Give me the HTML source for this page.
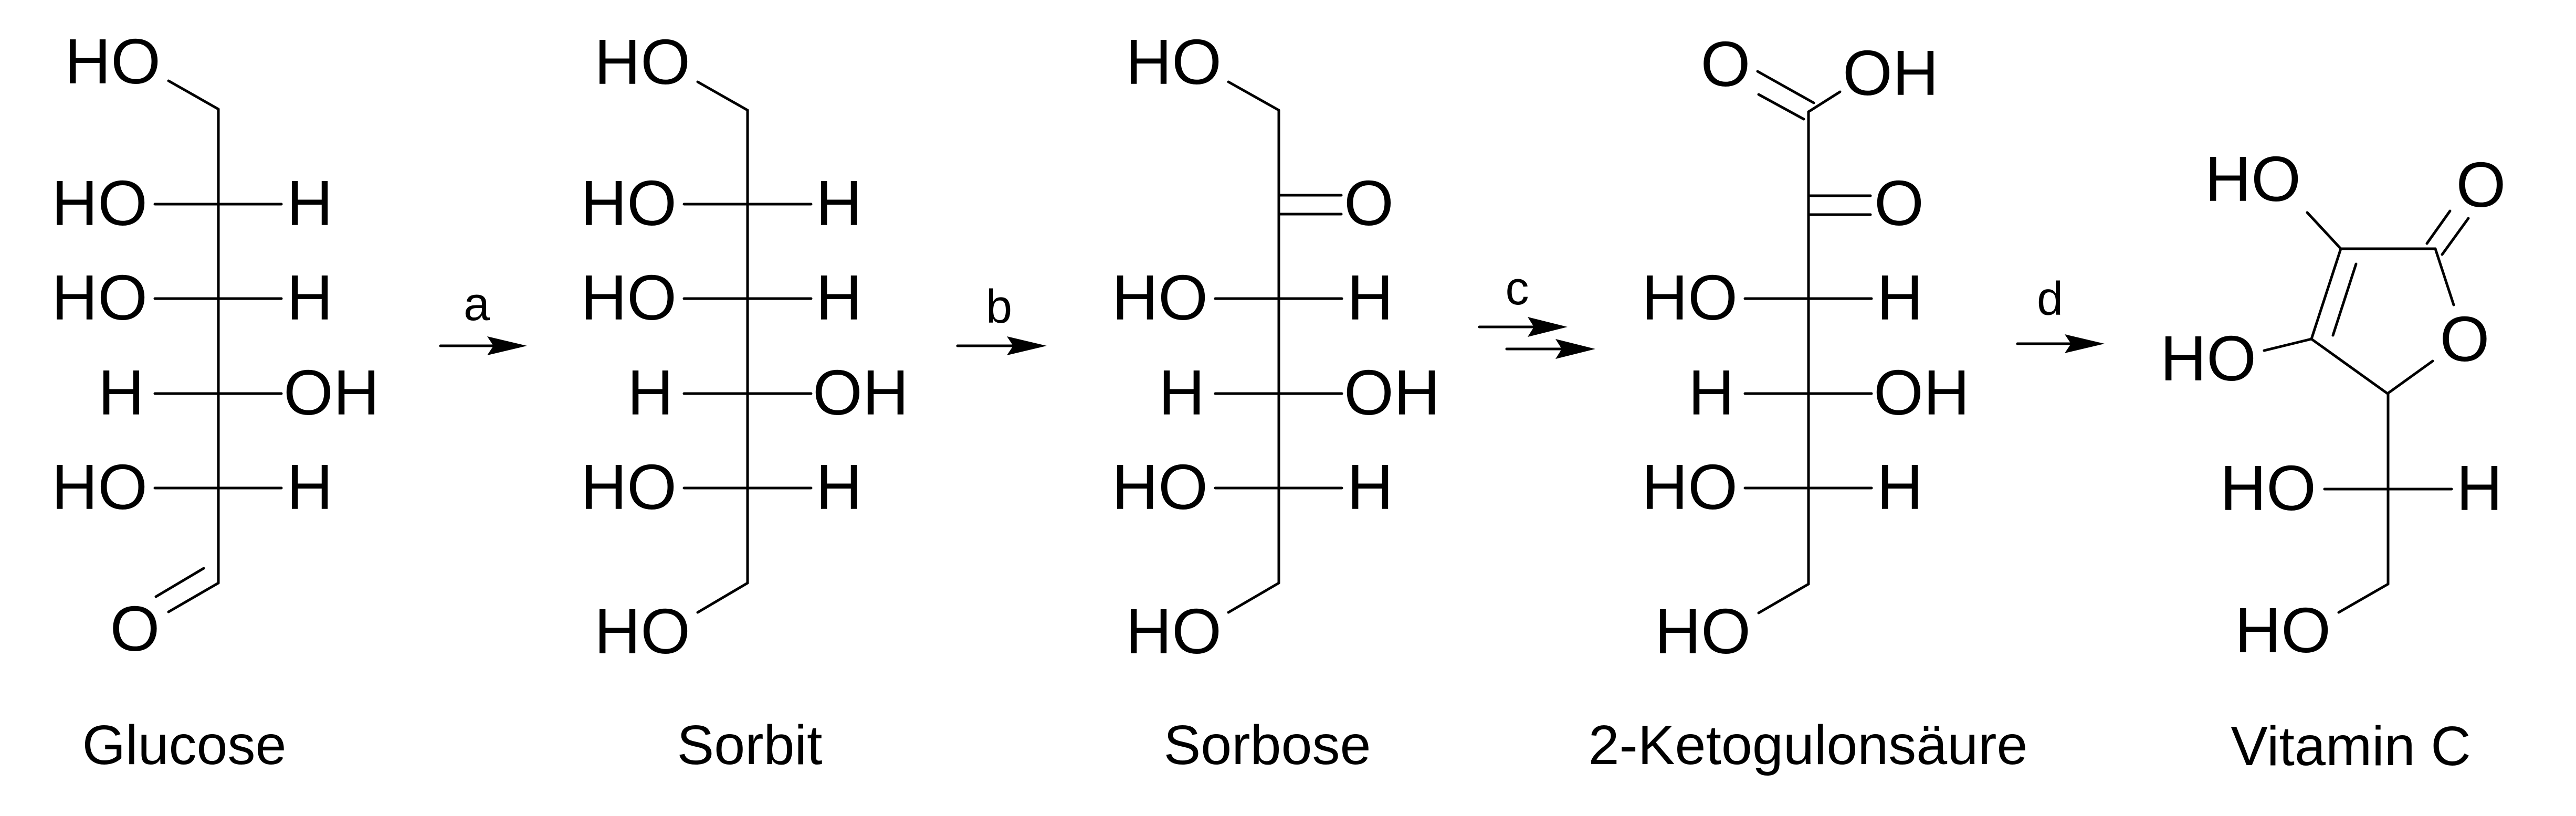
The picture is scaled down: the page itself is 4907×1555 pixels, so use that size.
<!DOCTYPE html>
<html><head><meta charset="utf-8"><style>
html,body{margin:0;padding:0;background:#fff;}
svg{display:block;}
text{font-family:"Liberation Sans",Arial,sans-serif;fill:#000;}
.a{font-size:122px;}
.l{font-size:106px;}
.r{font-size:90px;}
</style></head><body>
<svg width="4907" height="1555" viewBox="0 0 4907 1555" xmlns="http://www.w3.org/2000/svg">
<g stroke="#000" stroke-width="5" stroke-linecap="round" fill="none">
<!-- Glucose -->
<line x1="416" y1="208" x2="416" y2="1111"/>
<polyline points="321,154 416,208"/>
<line x1="295" y1="389" x2="536" y2="389"/>
<line x1="295" y1="569" x2="536" y2="569"/>
<line x1="295" y1="750" x2="536" y2="750"/>
<line x1="295" y1="930" x2="536" y2="930"/>
<line x1="297" y1="1137" x2="388" y2="1083"/>
<line x1="321" y1="1166" x2="416" y2="1111"/>
<!-- Sorbit -->
<line x1="1424" y1="210" x2="1424" y2="1111"/>
<line x1="1329" y1="156" x2="1424" y2="210"/>
<line x1="1329" y1="1167" x2="1424" y2="1111"/>
<line x1="1303" y1="389" x2="1545" y2="389"/>
<line x1="1303" y1="569" x2="1545" y2="569"/>
<line x1="1303" y1="750" x2="1545" y2="750"/>
<line x1="1303" y1="930" x2="1545" y2="930"/>
<!-- Sorbose -->
<line x1="2436" y1="210" x2="2436" y2="1111"/>
<line x1="2340" y1="156" x2="2436" y2="210"/>
<line x1="2340" y1="1167" x2="2436" y2="1111"/>
<line x1="2436" y1="372" x2="2555" y2="372"/>
<line x1="2436" y1="408" x2="2555" y2="408"/>
<line x1="2315" y1="569" x2="2556" y2="569"/>
<line x1="2315" y1="750" x2="2556" y2="750"/>
<line x1="2315" y1="930" x2="2556" y2="930"/>
<!-- Keto -->
<line x1="3445" y1="213" x2="3445" y2="1113"/>
<line x1="3348" y1="136" x2="3455" y2="196"/>
<line x1="3350" y1="180" x2="3436" y2="227"/>
<line x1="3445" y1="213" x2="3505" y2="175"/>
<line x1="3445" y1="373" x2="3563" y2="373"/>
<line x1="3445" y1="409" x2="3563" y2="409"/>
<line x1="3324" y1="569" x2="3565" y2="569"/>
<line x1="3324" y1="750" x2="3565" y2="750"/>
<line x1="3324" y1="930" x2="3565" y2="930"/>
<line x1="3350" y1="1168" x2="3445" y2="1113"/>
<!-- Vitamin C -->
<line x1="4395" y1="405" x2="4459" y2="474"/>
<line x1="4459" y1="474" x2="4639" y2="474"/>
<line x1="4639" y1="474" x2="4674" y2="581"/>
<line x1="4634" y1="688" x2="4548" y2="750"/>
<line x1="4548" y1="750" x2="4403" y2="646"/>
<line x1="4403" y1="646" x2="4459" y2="474"/>
<line x1="4444" y1="639" x2="4488" y2="503"/>
<line x1="4623" y1="464" x2="4667" y2="402"/>
<line x1="4652" y1="485" x2="4702" y2="416"/>
<line x1="4313" y1="668" x2="4403" y2="646"/>
<line x1="4549" y1="750" x2="4549" y2="1113"/>
<line x1="4428" y1="932" x2="4670" y2="932"/>
<line x1="4455" y1="1167" x2="4549" y2="1113"/>
<!-- arrows lines -->
<line x1="839" y1="659" x2="950" y2="659"/>
<line x1="1824" y1="659" x2="1935" y2="659"/>
<line x1="2818" y1="623" x2="2925" y2="623"/>
<line x1="2870" y1="665" x2="2978" y2="665"/>
<line x1="3843" y1="655" x2="3950" y2="655"/>
</g>
<g fill="#000">
<polygon points="1004,659 928,641 940,659 928,677"/>
<polygon points="1994,659 1918,641 1930,659 1918,677"/>
<polygon points="2986,623 2910,604 2922,623 2910,642"/>
<polygon points="3039,665 2963,646 2975,665 2963,684"/>
<polygon points="4009,655 3933,637 3945,655 3933,673"/>
</g>
<g class="a">
<!-- Glucose -->
<text x="306" y="159" text-anchor="end">HO</text>
<text x="281" y="429" text-anchor="end">HO</text><text x="546" y="429">H</text>
<text x="281" y="609" text-anchor="end">HO</text><text x="546" y="609">H</text>
<text x="275" y="790" text-anchor="end">H</text><text x="540" y="790">OH</text>
<text x="281" y="970" text-anchor="end">HO</text><text x="546" y="970">H</text>
<text x="257" y="1240" text-anchor="middle">O</text>
<!-- Sorbit -->
<text x="1315" y="160" text-anchor="end">HO</text>
<text x="1289" y="429" text-anchor="end">HO</text><text x="1554" y="429">H</text>
<text x="1289" y="609" text-anchor="end">HO</text><text x="1554" y="609">H</text>
<text x="1283" y="790" text-anchor="end">H</text><text x="1548" y="790">OH</text>
<text x="1289" y="970" text-anchor="end">HO</text><text x="1554" y="970">H</text>
<text x="1315" y="1245" text-anchor="end">HO</text>
<!-- Sorbose -->
<text x="2327" y="160" text-anchor="end">HO</text>
<text x="2560" y="429">O</text>
<text x="2301" y="609" text-anchor="end">HO</text><text x="2566" y="609">H</text>
<text x="2295" y="790" text-anchor="end">H</text><text x="2560" y="790">OH</text>
<text x="2301" y="970" text-anchor="end">HO</text><text x="2566" y="970">H</text>
<text x="2327" y="1245" text-anchor="end">HO</text>
<!-- Keto -->
<text x="3287" y="164" text-anchor="middle">O</text>
<text x="3510" y="181">OH</text>
<text x="3570" y="429">O</text>
<text x="3310" y="609" text-anchor="end">HO</text><text x="3575" y="609">H</text>
<text x="3304" y="790" text-anchor="end">H</text><text x="3569" y="790">OH</text>
<text x="3310" y="970" text-anchor="end">HO</text><text x="3575" y="970">H</text>
<text x="3335" y="1245" text-anchor="end">HO</text>
<!-- Vitamin C -->
<text x="4383" y="383" text-anchor="end">HO</text>
<text x="4726" y="394" text-anchor="middle">O</text>
<text x="4298" y="725" text-anchor="end">HO</text>
<text x="4695" y="688" text-anchor="middle">O</text>
<text x="4412" y="972" text-anchor="end">HO</text><text x="4679" y="972">H</text>
<text x="4440" y="1243" text-anchor="end">HO</text>
</g>
<g class="r">
<text x="908" y="610" text-anchor="middle">a</text>
<text x="1903" y="615" text-anchor="middle">b</text>
<text x="2890" y="580" text-anchor="middle">c</text>
<text x="3905" y="600" text-anchor="middle">d</text>
</g>
<g class="l" text-anchor="middle">
<text x="351" y="1456">Glucose</text>
<text x="1428" y="1456">Sorbit</text>
<text x="2414" y="1456">Sorbose</text>
<text x="3444" y="1456">2-Ketogulonsäure</text>
<text x="4478" y="1458">Vitamin C</text>
</g>
</svg>
</body></html>
